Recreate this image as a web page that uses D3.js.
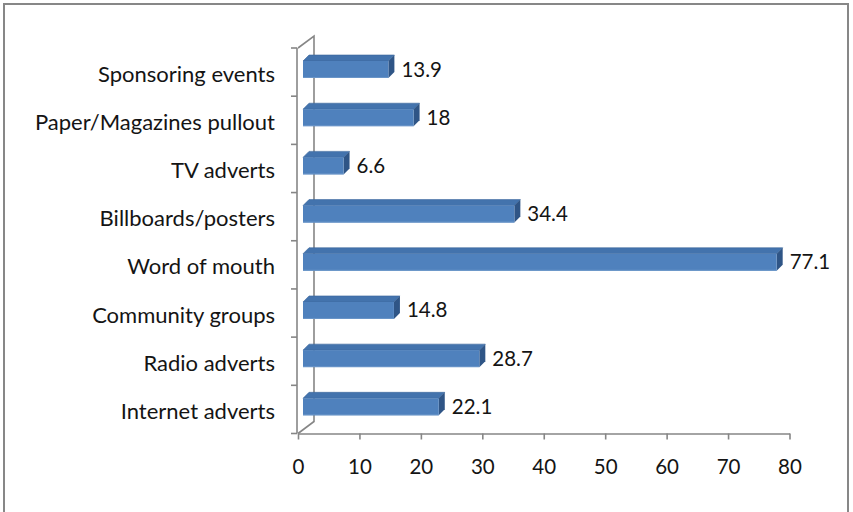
<!DOCTYPE html>
<html>
<head>
<meta charset="utf-8">
<script src="https://cdn.jsdelivr.net/npm/d3@7"></script>
<style>
  html, body { margin: 0; padding: 0; background: #fff; }
  svg { display: block; }
  text { font-family: Lato, "Noto Sans", sans-serif; fill: #141414; }
</style>
</head>
<body>
<svg id="chart" width="853" height="512"></svg>
<script>
// Categories listed top to bottom
const categories = [
  "Sponsoring events",
  "Paper/Magazines pullout",
  "TV adverts",
  "Billboards/posters",
  "Word of mouth",
  "Community groups",
  "Radio adverts",
  "Internet adverts"
];
const values = [13.9, 18, 6.6, 34.4, 77.1, 14.8, 28.7, 22.1];
const xTicks = [0, 10, 20, 30, 40, 50, 60, 70, 80];

const svg = d3.select("#chart");

// outer frame
svg.append("rect")
  .attr("x", 4).attr("y", 4).attr("width", 844).attr("height", 520)
  .attr("fill", "#fff").attr("stroke", "#878787").attr("stroke-width", 2);

const plotLeft = 298, plotRight = 789.5, plotTop = 48, plotBottom = 433.5;
const depthX = 16, depthY = 12;       // back wall offset
const barDX = 5;                      // bar offset inside depth
const faceDX = 6, faceDY = 6;         // visible top / side thickness

const x = d3.scaleLinear().domain([0, 80]).range([plotLeft, plotRight]);
const y = d3.scaleBand().domain(categories).range([plotTop, plotBottom]);

const axisColor = "#868686";

// back wall / floor outline
svg.append("path")
  .attr("fill", "none").attr("stroke", axisColor).attr("stroke-width", 1.6)
  .attr("d", `M${plotLeft},${plotTop} L${plotLeft + depthX},${plotTop - depthY} L${plotLeft + depthX},${plotBottom - depthY} L${plotLeft},${plotBottom}`);

// bars (3-D: top face, side face, front face)
const bars = svg.append("g");
categories.forEach((c, i) => {
  const v = values[i];
  const x0 = x(0) + barDX;
  const x1 = x(v) + barDX;
  const yt = y(c) + 13;
  const yb = y(c) + 30;
  const g = bars.append("g");
  // top face
  g.append("path")
    .attr("d", `M${x0},${yt} L${x0 + faceDX},${yt - faceDY} L${x1 + faceDX},${yt - faceDY} L${x1},${yt} Z`)
    .attr("fill", "#4373ad").attr("stroke", "#3a669c").attr("stroke-width", 0.6);
  // side face
  g.append("path")
    .attr("d", `M${x1},${yt} L${x1 + faceDX},${yt - faceDY} L${x1 + faceDX},${yb - faceDY} L${x1},${yb} Z`)
    .attr("fill", "#2f5586");
  // front face
  g.append("rect")
    .attr("x", x0).attr("y", yt).attr("width", x1 - x0).attr("height", yb - yt)
    .attr("fill", "#4f81bd");
  g.append("line")
    .attr("x1", x0).attr("x2", x1).attr("y1", yb - 0.5).attr("y2", yb - 0.5)
    .attr("stroke", "#6a95c8").attr("stroke-width", 1);
  // value label
  svg.append("text")
    .attr("x", x1 + faceDX + 7)
    .attr("y", (yt + yb) / 2 - 1)
    .attr("dominant-baseline", "central")
    .attr("font-size", 20.5)
    .text(v);
});

// left (category) axis
const yAxis = svg.append("g").attr("stroke", axisColor).attr("stroke-width", 1.6);
yAxis.append("line").attr("x1", plotLeft - 1).attr("x2", plotLeft - 1)
  .attr("y1", plotTop).attr("y2", plotBottom);
categories.map(c => y(c)).concat([plotBottom]).forEach(b => {
  yAxis.append("line").attr("x1", plotLeft - 7).attr("x2", plotLeft - 1)
    .attr("y1", b).attr("y2", b);
});
svg.append("g").selectAll("text").data(categories).join("text")
  .attr("x", 275)
  .attr("y", d => y(d) + y.bandwidth() / 2 + 1)
  .attr("text-anchor", "end")
  .attr("dominant-baseline", "central")
  .attr("font-size", 22)
  .text(d => d);

// bottom (value) axis
const xAxis = d3.axisBottom(x).tickValues(xTicks).tickSize(6).tickPadding(20).tickSizeOuter(0);
const gx = svg.append("g").attr("transform", `translate(0,${plotBottom})`).call(xAxis);
gx.select(".domain").attr("stroke", axisColor).attr("stroke-width", 1.6);
gx.selectAll(".tick line").attr("stroke", axisColor).attr("stroke-width", 1.6);
gx.selectAll(".tick text").attr("font-size", 20.5).attr("font-family", "Lato, 'Noto Sans', sans-serif").attr("fill", "#141414");
</script>
</body>
</html>
